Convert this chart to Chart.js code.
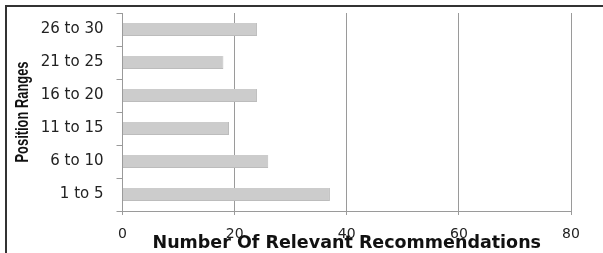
<!DOCTYPE html>
<html>
<head>
<meta charset="utf-8">
<script src="https://cdn.jsdelivr.net/npm/chart.js@4"></script>
<style>
  html, body { margin: 0; padding: 0; background: #fff; }
  #wrap { position: relative; width: 603px; height: 253px; }
  #frame { position: absolute; left: 5px; top: 5px; width: 610px; height: 260px;
           border-top: 2px solid #333; border-left: 2px solid #333; box-sizing: border-box; }
  canvas { position: absolute; left: 0; top: 0; }
</style>
</head>
<body>
<div id="wrap">
  <div id="frame"></div>
  <canvas id="c" width="603" height="253"></canvas>
</div>
<script>
const categories = ['1 to 5', '6 to 10', '11 to 15', '16 to 20', '21 to 25', '26 to 30'];
const relevantCounts = [37, 26, 19, 24, 18, 24];
const xTicks = [0, 20, 40, 60, 80];
const xTitle = 'Number Of Relevant Recommendations';
const yTitle = 'Position Ranges';

const gridCol = '#9a9a9a';

const yTitlePlugin = {
  id: 'yTitleCondensed',
  afterDraw(chart) {
    const ctx = chart.ctx;
    ctx.save();
    ctx.translate(23, 112);
    ctx.rotate(-Math.PI / 2);
    ctx.font = 'bold 18px "Liberation Sans", Arial, sans-serif';
    ctx.fillStyle = '#111';
    ctx.textAlign = 'center';
    ctx.textBaseline = 'middle';
    ctx.fillText(yTitle, 0, 0, 101);
    ctx.restore();
  }
};

new Chart(document.getElementById('c'), {
  type: 'bar',
  data: {
    labels: categories,
    datasets: [{
      data: relevantCounts,
      backgroundColor: '#cccccc',
      borderColor: '#bcbcbc',
      borderWidth: { right: 1, bottom: 1, top: 0, left: 0 },
      borderSkipped: false,
      barPercentage: 0.8,
      categoryPercentage: 0.5
    }]
  },
  options: {
    indexAxis: 'y',
    responsive: false,
    animation: false,
    devicePixelRatio: 1,
    layout: { padding: { top: 13, right: 32, bottom: 0, left: 0 } },
    plugins: { legend: { display: false }, tooltip: { enabled: false } },
    scales: {
      x: {
        min: 0, max: 80,
        afterBuildTicks: (s) => { s.ticks = xTicks.map(v => ({ value: v })); },
        grid: { color: gridCol, lineWidth: 1, drawTicks: true, tickLength: 4, tickColor: gridCol },
        border: { display: true, color: gridCol, width: 1 },
        ticks: { font: { family: 'DejaVu Sans', size: 14 }, color: '#222', padding: 11, maxRotation: 0 },
        title: { display: true, text: xTitle, font: { family: 'DejaVu Sans', weight: 'bold', size: 17.5 },
                 color: '#111', padding: { top: 0, bottom: -1 } },
        afterFit: (s) => { s.height = 42; }
      },
      y: {
        reverse: true,
        grid: { drawOnChartArea: false, drawTicks: true, tickLength: 6, tickColor: gridCol, offset: true },
        border: { display: true, color: gridCol, width: 1 },
        ticks: { font: { family: 'DejaVu Sans', size: 15 }, color: '#222', padding: 13 },
        title: { display: false },
        afterFit: (s) => { s.width = 122.5; s.paddingTop = 0; s.paddingBottom = 0; }
      }
    }
  },
  plugins: [yTitlePlugin]
});
</script>
</body>
</html>
